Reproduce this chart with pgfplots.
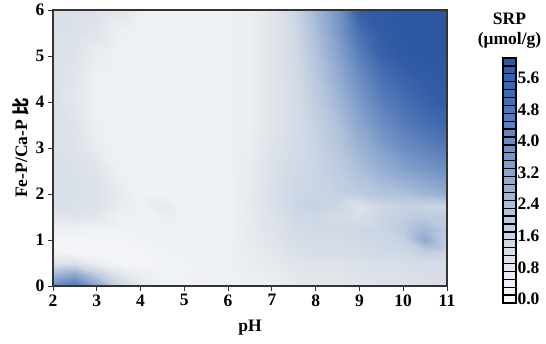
\documentclass[border=0pt]{standalone}
\usepackage{pgfplots}
\pgfplotsset{compat=1.18}
\usepackage{fontspec}
\setmainfont{Liberation Serif}
\newfontfamily\cjk{Noto Sans CJK SC}
\pgfplotsset{
  colormap={srp}{rgb255(0)=(247,248,250) rgb255(45)=(236,239,243) rgb255(90)=(225,229,235) rgb255(150)=(205,215,228) rgb255(220)=(178,195,220) rgb255(300)=(145,170,208) rgb255(380)=(112,145,195) rgb255(460)=(85,122,183) rgb255(540)=(60,102,172) rgb255(600)=(44,88,162)}
}
\newcommand\bigfont{\fontsize{17.5}{20}\selectfont\bfseries}
\begin{document}
\begin{tikzpicture}
\begin{axis}[
  at={(0,0)}, anchor=south west,
  scale only axis, width=394pt, height=276pt,
  xmin=2, xmax=11, ymin=0, ymax=6,
  xtick={2,3,...,11}, ytick={0,1,...,6},
  tick align=outside, tick pos=left, major tick length=5pt,
  colormap name=srp, point meta min=0, point meta max=6,
  axis line style={line width=1.2pt, draw=black!80},
  every tick/.style={black!80, line width=1pt},
  tick label style={font=\bigfont},
  /pgf/number format/assume math mode=true,
  xlabel={pH}, ylabel={Fe-P/Ca-P {\cjk 比}},
  label style={font=\bigfont},
  xlabel style={yshift=-7pt},
  axis on top,
]
\addplot[surf, shader=interp, mesh/cols=19, point meta=explicit] coordinates {
(2,0)[4.0] (2.5,0)[4.8] (3,0)[3.2] (3.5,0)[1.6] (4,0)[0.8] (4.5,0)[0.4] (5,0)[0.35] (5.5,0)[0.35] (6,0)[0.4] (6.5,0)[0.45] (7,0)[0.5] (7.5,0)[0.7] (8,0)[0.8] (8.5,0)[0.8] (9,0)[0.9] (9.5,0)[1.0] (10,0)[1.0] (10.5,0)[1.1] (11,0)[1.2]

(2,0.25)[2.6] (2.5,0.25)[3.2] (3,0.25)[2.0] (3.5,0.25)[1.0] (4,0.25)[0.5] (4.5,0.25)[0.3] (5,0.25)[0.3] (5.5,0.25)[0.35] (6,0.25)[0.4] (6.5,0.25)[0.5] (7,0.25)[0.6] (7.5,0.25)[0.8] (8,0.25)[0.9] (8.5,0.25)[0.9] (9,0.25)[1.0] (9.5,0.25)[1.1] (10,0.25)[1.1] (10.5,0.25)[1.2] (11,0.25)[1.3]

(2,0.5)[1.0] (2.5,0.5)[1.1] (3,0.5)[0.5] (3.5,0.5)[0.2] (4,0.5)[0.2] (4.5,0.5)[0.25] (5,0.5)[0.3] (5.5,0.5)[0.35] (6,0.5)[0.4] (6.5,0.5)[0.55] (7,0.5)[0.7] (7.5,0.5)[0.9] (8,0.5)[1.0] (8.5,0.5)[1.0] (9,0.5)[1.1] (9.5,0.5)[1.2] (10,0.5)[1.2] (10.5,0.5)[1.3] (11,0.5)[1.3]

(2,0.75)[0.2] (2.5,0.75)[0.15] (3,0.75)[0.15] (3.5,0.75)[0.15] (4,0.75)[0.2] (4.5,0.75)[0.3] (5,0.75)[0.35] (5.5,0.75)[0.35] (6,0.75)[0.4] (6.5,0.75)[0.6] (7,0.75)[0.8] (7.5,0.75)[1.1] (8,0.75)[1.2] (8.5,0.75)[1.2] (9,0.75)[1.3] (9.5,0.75)[1.4] (10,0.75)[1.5] (10.5,0.75)[1.8] (11,0.75)[1.6]

(2,1)[0.15] (2.5,1)[0.15] (3,1)[0.15] (3.5,1)[0.2] (4,1)[0.3] (4.5,1)[0.35] (5,1)[0.35] (5.5,1)[0.35] (6,1)[0.4] (6.5,1)[0.65] (7,1)[0.9] (7.5,1)[1.2] (8,1)[1.3] (8.5,1)[1.3] (9,1)[1.4] (9.5,1)[1.5] (10,1)[1.7] (10.5,1)[3.0] (11,1)[1.8]

(2,1.25)[0.4] (2.5,1.25)[0.35] (3,1.25)[0.3] (3.5,1.25)[0.3] (4,1.25)[0.35] (4.5,1.25)[0.35] (5,1.25)[0.35] (5.5,1.25)[0.35] (6,1.25)[0.4] (6.5,1.25)[0.7] (7,1.25)[1.0] (7.5,1.25)[1.3] (8,1.25)[1.4] (8.5,1.25)[1.4] (9,1.25)[1.5] (9.5,1.25)[1.6] (10,1.25)[1.9] (10.5,1.25)[2.6] (11,1.25)[2.0]

(2,1.5)[0.9] (2.5,1.5)[0.95] (3,1.5)[0.8] (3.5,1.5)[0.4] (4,1.5)[0.35] (4.5,1.5)[0.5] (5,1.5)[0.35] (5.5,1.5)[0.35] (6,1.5)[0.4] (6.5,1.5)[0.7] (7,1.5)[1.0] (7.5,1.5)[1.4] (8,1.5)[1.5] (8.5,1.5)[1.3] (9,1.5)[1.2] (9.5,1.5)[1.6] (10,1.5)[1.8] (10.5,1.5)[1.9] (11,1.5)[1.9]

(2,1.75)[1.1] (2.5,1.75)[1.1] (3,1.75)[1.0] (3.5,1.75)[0.6] (4,1.75)[0.35] (4.5,1.75)[0.75] (5,1.75)[0.35] (5.5,1.75)[0.35] (6,1.75)[0.4] (6.5,1.75)[0.7] (7,1.75)[1.1] (7.5,1.75)[1.5] (8,1.75)[1.7] (8.5,1.75)[1.5] (9,1.75)[1.0] (9.5,1.75)[1.5] (10,1.75)[1.7] (10.5,1.75)[1.6] (11,1.75)[1.5]

(2,2)[1.1] (2.5,2)[1.1] (3,2)[1.05] (3.5,2)[0.7] (4,2)[0.35] (4.5,2)[0.35] (5,2)[0.35] (5.5,2)[0.35] (6,2)[0.4] (6.5,2)[0.7] (7,2)[1.1] (7.5,2)[1.5] (8,2)[1.6] (8.5,2)[1.7] (9,2)[1.9] (9.5,2)[2.1] (10,2)[2.3] (10.5,2)[2.6] (11,2)[2.9]

(2,2.5)[1.1] (2.5,2.5)[1.1] (3,2.5)[0.95] (3.5,2.5)[0.45] (4,2.5)[0.35] (4.5,2.5)[0.35] (5,2.5)[0.35] (5.5,2.5)[0.35] (6,2.5)[0.4] (6.5,2.5)[0.65] (7,2.5)[1.1] (7.5,2.5)[1.4] (8,2.5)[1.6] (8.5,2.5)[1.9] (9,2.5)[2.3] (9.5,2.5)[2.8] (10,2.5)[3.2] (10.5,2.5)[3.5] (11,2.5)[3.8]

(2,3)[1.1] (2.5,3)[1.0] (3,3)[0.6] (3.5,3)[0.35] (4,3)[0.35] (4.5,3)[0.35] (5,3)[0.35] (5.5,3)[0.35] (6,3)[0.4] (6.5,3)[0.55] (7,3)[1.0] (7.5,3)[1.3] (8,3)[1.6] (8.5,3)[2.1] (9,3)[2.7] (9.5,3)[3.3] (10,3)[3.9] (10.5,3)[4.3] (11,3)[4.6]

(2,3.5)[1.1] (2.5,3.5)[0.95] (3,3.5)[0.45] (3.5,3.5)[0.35] (4,3.5)[0.35] (4.5,3.5)[0.35] (5,3.5)[0.35] (5.5,3.5)[0.35] (6,3.5)[0.4] (6.5,3.5)[0.5] (7,3.5)[0.9] (7.5,3.5)[1.25] (8,3.5)[1.7] (8.5,3.5)[2.3] (9,3.5)[3.1] (9.5,3.5)[3.9] (10,3.5)[4.5] (10.5,3.5)[5.0] (11,3.5)[5.3]

(2,4)[1.1] (2.5,4)[0.8] (3,4)[0.35] (3.5,4)[0.35] (4,4)[0.35] (4.5,4)[0.35] (5,4)[0.35] (5.5,4)[0.35] (6,4)[0.4] (6.5,4)[0.5] (7,4)[0.9] (7.5,4)[1.25] (8,4)[1.9] (8.5,4)[2.6] (9,4)[3.5] (9.5,4)[4.4] (10,4)[5.0] (10.5,4)[5.5] (11,4)[5.8]

(2,4.5)[1.1] (2.5,4.5)[0.85] (3,4.5)[0.4] (3.5,4.5)[0.35] (4,4.5)[0.35] (4.5,4.5)[0.35] (5,4.5)[0.35] (5.5,4.5)[0.35] (6,4.5)[0.4] (6.5,4.5)[0.5] (7,4.5)[0.9] (7.5,4.5)[1.3] (8,4.5)[2.0] (8.5,4.5)[2.9] (9,4.5)[3.9] (9.5,4.5)[4.9] (10,4.5)[5.5] (10.5,4.5)[5.8] (11,4.5)[5.9]

(2,5)[1.1] (2.5,5)[1.0] (3,5)[0.55] (3.5,5)[0.35] (4,5)[0.35] (4.5,5)[0.35] (5,5)[0.35] (5.5,5)[0.35] (6,5)[0.4] (6.5,5)[0.5] (7,5)[0.9] (7.5,5)[1.35] (8,5)[2.2] (8.5,5)[3.2] (9,5)[4.4] (9.5,5)[5.5] (10,5)[5.9] (10.5,5)[6.0] (11,5)[6.0]

(2,5.5)[1.1] (2.5,5.5)[1.1] (3,5.5)[0.9] (3.5,5.5)[0.45] (4,5.5)[0.35] (4.5,5.5)[0.35] (5,5.5)[0.35] (5.5,5.5)[0.35] (6,5.5)[0.4] (6.5,5.5)[0.5] (7,5.5)[0.9] (7.5,5.5)[1.4] (8,5.5)[2.4] (8.5,5.5)[3.5] (9,5.5)[5.0] (9.5,5.5)[5.8] (10,5.5)[6.0] (10.5,5.5)[6.0] (11,5.5)[6.0]

(2,6)[1.1] (2.5,6)[1.1] (3,6)[1.05] (3.5,6)[0.85] (4,6)[0.4] (4.5,6)[0.35] (5,6)[0.35] (5.5,6)[0.35] (6,6)[0.4] (6.5,6)[0.5] (7,6)[0.9] (7.5,6)[1.5] (8,6)[2.6] (8.5,6)[3.7] (9,6)[5.7] (9.5,6)[5.9] (10,6)[6.0] (10.5,6)[6.0] (11,6)[6.0]
};
\end{axis}
\begin{axis}[
  at={(450pt,-17pt)}, anchor=south west,
  scale only axis, width=13pt, height=245pt,
  xmin=0, xmax=1, ymin=-0.1, ymax=6.1,
  axis line style={draw=none},
  xtick=\empty,
  ytick={0,0.8,1.6,2.4,3.2,4.0,4.8,5.6},
  yticklabels={0.0,0.8,1.6,2.4,3.2,4.0,4.8,5.6},
  yticklabel pos=right, major tick length=0pt,
  y tick label style={font=\bigfont, xshift=-2pt},
  colormap name=srp, point meta min=0, point meta max=6,
  title={SRP\\(μmol/g)},
  title style={align=center, font=\bigfont, yshift=0pt},
  clip=false,
]
\addplot[surf, shader=flat corner, draw=black, line width=1.3pt, mesh/cols=2, point meta=explicit] coordinates {
(0,-0.1)[0] (1,-0.1)[0]

(0,0.1)[0.2] (1,0.1)[0.2]

(0,0.3)[0.4] (1,0.3)[0.4]

(0,0.5)[0.6] (1,0.5)[0.6]

(0,0.7)[0.8] (1,0.7)[0.8]

(0,0.9)[1.0] (1,0.9)[1.0]

(0,1.1)[1.2] (1,1.1)[1.2]

(0,1.3)[1.4] (1,1.3)[1.4]

(0,1.5)[1.6] (1,1.5)[1.6]

(0,1.7)[1.8] (1,1.7)[1.8]

(0,1.9)[2.0] (1,1.9)[2.0]

(0,2.1)[2.2] (1,2.1)[2.2]

(0,2.3)[2.4] (1,2.3)[2.4]

(0,2.5)[2.6] (1,2.5)[2.6]

(0,2.7)[2.8] (1,2.7)[2.8]

(0,2.9)[3.0] (1,2.9)[3.0]

(0,3.1)[3.2] (1,3.1)[3.2]

(0,3.3)[3.4] (1,3.3)[3.4]

(0,3.5)[3.6] (1,3.5)[3.6]

(0,3.7)[3.8] (1,3.7)[3.8]

(0,3.9)[4.0] (1,3.9)[4.0]

(0,4.1)[4.2] (1,4.1)[4.2]

(0,4.3)[4.4] (1,4.3)[4.4]

(0,4.5)[4.6] (1,4.5)[4.6]

(0,4.7)[4.8] (1,4.7)[4.8]

(0,4.9)[5.0] (1,4.9)[5.0]

(0,5.1)[5.2] (1,5.1)[5.2]

(0,5.3)[5.4] (1,5.3)[5.4]

(0,5.5)[5.6] (1,5.5)[5.6]

(0,5.7)[5.8] (1,5.7)[5.8]

(0,5.9)[6.0] (1,5.9)[6.0]

(0,6.1)[6.0] (1,6.1)[6.0]
};
\end{axis}
\pgfresetboundingbox
\path (-53pt,-57pt) rectangle (493pt,286pt);
\end{tikzpicture}
\end{document}
